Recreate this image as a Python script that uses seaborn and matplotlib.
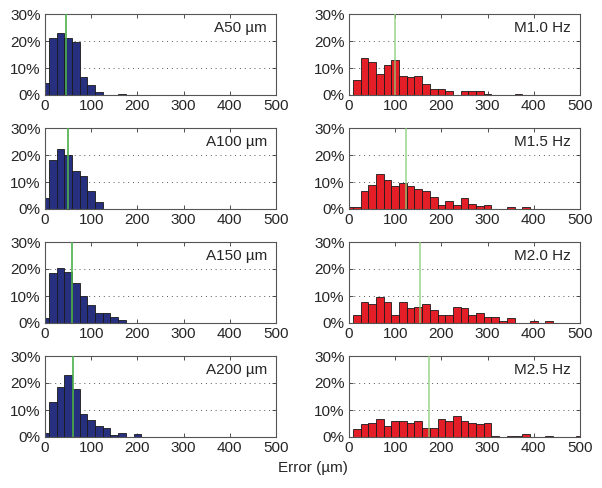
import numpy as np
import pandas as pd
import seaborn as sns
from matplotlib import pyplot as plt
from matplotlib.ticker import FuncFormatter

# bin centres every 50/3 um, from 0 to 500 (31 bins)
bin_centers = np.arange(31) * 50 / 3
bin_edges = list(np.append(bin_centers - 25 / 3, bin_centers[-1] + 25 / 3))

# percent of samples in each bin
a50 = [4.6, 21.2, 22.9, 21.2, 19.5, 6.8, 3.7, 1.0, 0, 0, 0.4]
a100 = [4.0, 18.3, 22.4, 20.0, 14.1, 12.1, 6.8, 2.7]
a150 = [1.8, 18.4, 20.5, 18.9, 14.8, 10.1, 6.5, 3.8, 3.8, 2.3, 1.1]
a200 = [1.6, 12.9, 18.5, 22.9, 17.6, 8.7, 6.2, 4.0, 3.5, 0.6, 1.5, 0, 1.0]

m10 = [0, 5.5, 13.8, 12.2, 7.7, 11.1, 12.8, 7.0, 6.6, 7.1, 4.2, 2.1, 2.1, 1.6, 0,
       1.6, 1.6, 1.6, 0.5, 0, 0, 0, 0.5]
m15 = [0.6, 0.6, 6.7, 8.9, 12.9, 10.6, 8.4, 9.5, 8.4, 7.3, 6.7, 4.5, 1.6, 2.8, 1.6,
       4.0, 1.7, 1.1, 1.6, 0, 0, 0.6, 0, 0.6]
m20 = [0, 3.0, 7.7, 7.1, 9.5, 7.7, 3.0, 7.7, 5.5, 6.0, 7.1, 4.8, 3.0, 3.0, 6.0,
       5.5, 3.0, 3.7, 2.4, 2.4, 0.7, 1.8, 0, 0, 0.7, 0, 0.7]
m25 = [0, 2.9, 4.8, 5.2, 6.5, 4.0, 5.9, 5.9, 5.2, 5.9, 3.4, 3.4, 6.5, 5.9, 7.7,
       5.9, 5.2, 4.8, 5.2, 0.5, 0, 0.5, 0.5, 1.2, 0, 0, 0.5, 0, 0, 0, 0.5]

# green line (mean error) for each panel
a_means = [44.5, 50, 57.5, 60]
m_means = [100, 124, 153, 174]

a_labels = ['A50 \u00b5m', 'A100 \u00b5m', 'A150 \u00b5m', 'A200 \u00b5m']
m_labels = ['M1.0 Hz', 'M1.5 Hz', 'M2.0 Hz', 'M2.5 Hz']

sns.set_style('ticks')
plt.rcParams['font.family'] = ['Liberation Sans', 'DejaVu Sans']
plt.rcParams['font.size'] = 11

fig = plt.figure(figsize=(6.02, 4.88), dpi=100)

left_x = [45 / 602, 349 / 602]
ax_w = 231 / 602
ax_h = 81 / 488
row_bottoms = [95, 209, 323, 437]


def draw_panel(ax, values, mean, label, color, line_color, line_alpha):
    df = pd.DataFrame({'err': bin_centers[:len(values)], 'pct': values})
    sns.histplot(data=df, x='err', weights='pct', bins=bin_edges, ax=ax,
                 common_bins=False, color=color, edgecolor='#1a1a1a',
                 linewidth=0.6, alpha=1)
    ax.axvline(mean, color=line_color, lw=1.2, alpha=line_alpha, zorder=5)
    ax.set_xlim(0, 500)
    ax.set_ylim(0, 30)
    ax.set_xticks([0, 100, 200, 300, 400, 500])
    ax.set_yticks([0, 10, 20, 30])
    ax.yaxis.set_major_formatter(FuncFormatter(lambda v, p: '%d%%' % v))
    ax.yaxis.grid(True, linestyle=(0, (1, 4)), color='#555555', lw=0.7)
    ax.set_axisbelow(True)
    ax.tick_params(direction='in', length=3, width=0.6, top=True, right=True,
                   labelsize=11, pad=3, color='#333333')
    for s in ax.spines.values():
        s.set_color('#555555')
        s.set_linewidth(0.8)
    ax.set_xlabel('')
    ax.set_ylabel('')
    ax.text(0.96, 0.83, label, transform=ax.transAxes, ha='right', va='center',
            fontsize=11)


for i in range(4):
    bottom = 1 - row_bottoms[i] / 488
    ax_a = fig.add_axes([left_x[0], bottom, ax_w, ax_h])
    draw_panel(ax_a, [a50, a100, a150, a200][i], a_means[i], a_labels[i],
               '#27307f', '#4cb04c', 1.0)
    ax_m = fig.add_axes([left_x[1], bottom, ax_w, ax_h])
    draw_panel(ax_m, [m10, m15, m20, m25][i], m_means[i], m_labels[i],
               '#e41e26', '#8ccc78', 0.8)

fig.text(313 / 602, 1 - 468 / 488, 'Error (\u00b5m)', ha='center', va='center',
         fontsize=11)

fig.savefig('out.png', dpi=100)
